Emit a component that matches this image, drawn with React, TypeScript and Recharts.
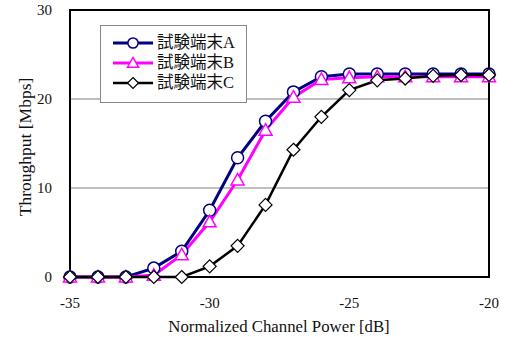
import { LineChart, Line, XAxis, YAxis, CartesianGrid, ReferenceArea, Legend } from 'recharts';

const powerDb = [-35, -34, -33, -32, -31, -30, -29, -28, -27, -26, -25, -24, -23, -22, -21, -20];
const termA = [0, 0, 0, 1.0, 2.9, 7.5, 13.4, 17.5, 20.8, 22.5, 22.8, 22.8, 22.8, 22.8, 22.8, 22.8];
const termB = [0, 0, 0, 0.2, 2.5, 6.2, 10.9, 16.5, 20.2, 22.2, 22.4, 22.5, 22.5, 22.5, 22.5, 22.5];
const termC = [0, 0, 0, 0, 0, 1.2, 3.5, 8.1, 14.3, 18.0, 21.0, 22.1, 22.3, 22.6, 22.7, 22.7];
const xTicks = [-35, -30, -25, -20];
const yTicks = [0, 10, 20, 30];

const data = powerDb.map((x, i) => ({ x, a: termA[i], b: termB[i], c: termC[i] }));

const FONT = "'Liberation Serif', 'Times New Roman', 'Noto Sans CJK JP', serif";

type Shape = 'circle' | 'triangle' | 'diamond';

const series: { key: string; name: string; color: string; width: number; shape: Shape }[] = [
    { key: 'a', name: '試験端末A', color: '#000080', width: 3, shape: 'circle' },
    { key: 'b', name: '試験端末B', color: '#ff00ff', width: 3, shape: 'triangle' },
    { key: 'c', name: '試験端末C', color: '#000000', width: 2.5, shape: 'diamond' },
];

const Marker = ({ cx, cy, shape, color, s = 1 }: { cx: number; cy: number; shape: Shape; color: string; s?: number }) => {
    if (shape === 'circle') {
        return <circle cx={cx} cy={cy} r={6 * s} fill="#fff" stroke={color} strokeWidth={1.5} />;
    }
    if (shape === 'triangle') {
        return (
            <polygon
                points={`${cx},${cy - 6.5 * s} ${cx + 6.5 * s},${cy + 5 * s} ${cx - 6.5 * s},${cy + 5 * s}`}
                fill="#fff" stroke={color} strokeWidth={1.5}
            />
        );
    }
    return (
        <polygon
            points={`${cx},${cy - 6.5 * s} ${cx + 6.5 * s},${cy} ${cx},${cy + 6.5 * s} ${cx - 6.5 * s},${cy}`}
            fill="#fff" stroke={color} strokeWidth={1.2}
        />
    );
};

const renderLegend = () => (
    <div style={{ border: '1px solid #888', background: '#fff', width: 145, height: 69, padding: '7px 0 0 0', boxSizing: 'content-box', fontFamily: FONT }}>
        {series.map((s) => (
            <div key={s.key} style={{ display: 'flex', alignItems: 'center', height: 20 }}>
                <svg width={56} height={20}>
                    <line x1={12} x2={52} y1={10} y2={10} stroke={s.color} strokeWidth={s.width} />
                    <Marker cx={32} cy={10} shape={s.shape} color={s.color} s={0.85} />
                </svg>
                <span style={{ fontSize: 16.5, color: '#111', lineHeight: '20px' }}>{s.name}</span>
            </div>
        ))}
    </div>
);

export default function App() {
    return (
        <div style={{ position: 'absolute', left: 0, top: 0, background: '#fff', fontFamily: FONT }}>
            <LineChart width={520} height={337} data={data} margin={{ top: 10, right: 31, bottom: 0, left: 0 }} style={{ fontFamily: FONT }}>
                <CartesianGrid horizontal vertical={false} stroke="#808080" strokeWidth={1} />
                <XAxis
                    dataKey="x"
                    type="number"
                    domain={[-35, -20]}
                    ticks={xTicks}
                    height={60}
                    axisLine={false}
                    tickLine={false}
                    tickMargin={14}
                    tick={{ fontSize: 15, fill: '#111', fontFamily: FONT }}
                    label={() => (
                        <text x={279} y={332} textAnchor="middle" fontSize={16.8} fontFamily={FONT} fill="#111">
                            Normalized Channel Power [dB]
                        </text>
                    )}
                />
                <YAxis
                    type="number"
                    domain={[0, 30]}
                    ticks={yTicks}
                    width={70}
                    axisLine={false}
                    tickLine={false}
                    tickMargin={12}
                    tick={{ fontSize: 15, fill: '#111', fontFamily: FONT }}
                    label={() => (
                        <text x={25} y={147} dy={6} transform="rotate(-90, 25, 147)" textAnchor="middle" fontSize={17.5} fontFamily={FONT} fill="#111">
                            Throughput [Mbps]
                        </text>
                    )}
                />
                <ReferenceArea x1={-35} x2={-20} y1={0} y2={30} fill="none" stroke="#000" strokeWidth={2} ifOverflow="visible" />
                {series.map((s) => (
                    <Line
                        key={s.key}
                        dataKey={s.key}
                        name={s.name}
                        stroke={s.color}
                        strokeWidth={s.width}
                        isAnimationActive={false}
                        dot={(p: any) => <Marker key={p.index} cx={p.cx} cy={p.cy} shape={s.shape} color={s.color} />}
                        activeDot={false}
                    />
                ))}
                <Legend
                    layout="vertical"
                    align="center"
                    verticalAlign="middle"
                    content={renderLegend}
                    wrapperStyle={{ left: 100, top: 25, width: 'auto', height: 'auto' }}
                />
            </LineChart>
        </div>
    );
}
